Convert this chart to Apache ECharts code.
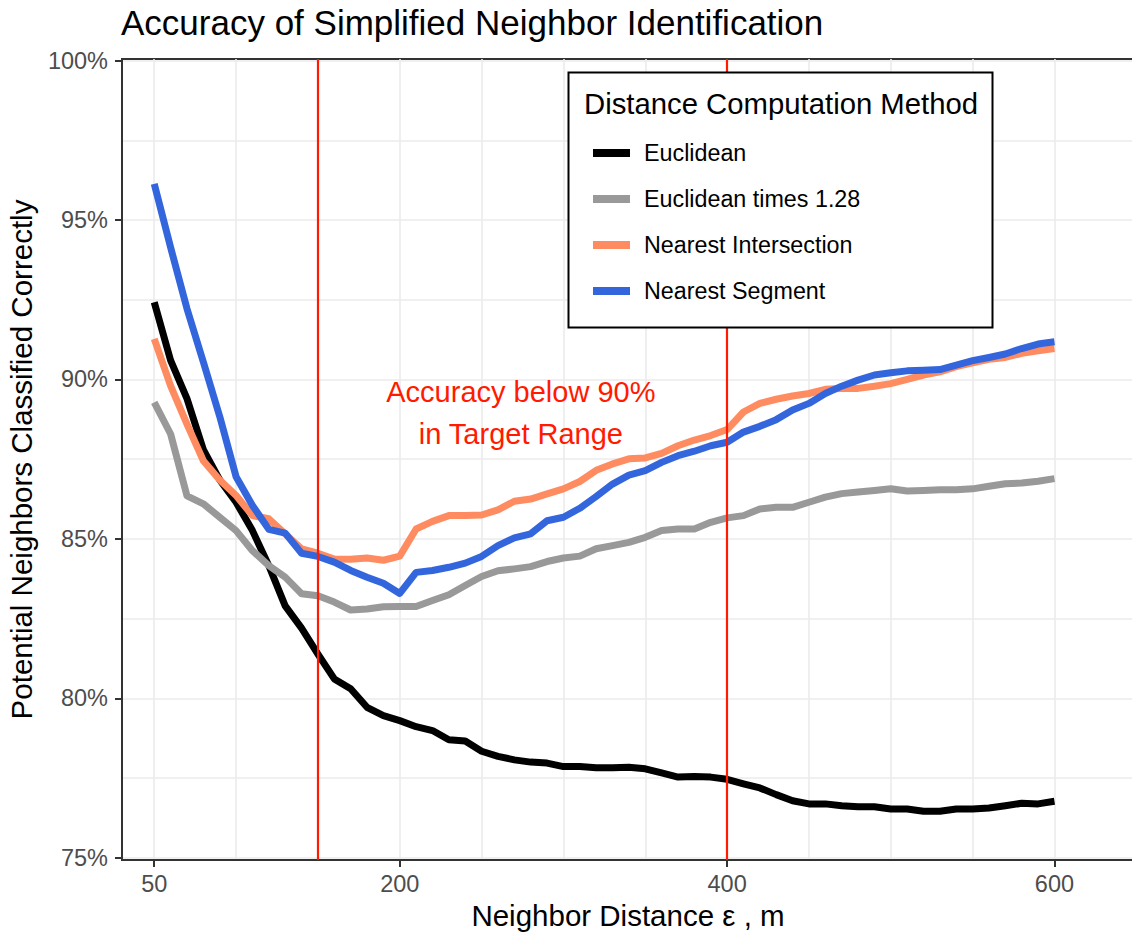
<!DOCTYPE html>
<html>
<head>
<meta charset="utf-8">
<script src="https://cdn.jsdelivr.net/npm/echarts@6/dist/echarts.min.js"></script>
<style>html,body{margin:0;padding:0;background:#fff}#chart{width:1132px;height:934px}</style>
</head>
<body>
<div id="chart"></div>
<script>
// ---- data ----
const distances = [50,60,70,80,90,100,110,120,130,140,150,160,170,180,190,200,210,220,230,240,250,260,270,280,290,300,310,320,330,340,350,360,370,380,390,400,410,420,430,440,450,460,470,480,490,500,510,520,530,540,550,560,570,580,590,600];
const euclidean = [92.42,90.6,89.4,87.8,86.85,86.15,85.26,84.16,82.9,82.2,81.39,80.61,80.3,79.72,79.46,79.3,79.11,78.99,78.7,78.66,78.34,78.18,78.07,78.0,77.97,77.86,77.86,77.82,77.82,77.84,77.79,77.66,77.53,77.55,77.53,77.46,77.32,77.19,76.98,76.79,76.69,76.69,76.63,76.6,76.6,76.53,76.53,76.46,76.46,76.53,76.53,76.56,76.63,76.71,76.69,76.77];
const euclideanTimes128 = [89.28,88.29,86.35,86.1,85.68,85.26,84.63,84.16,83.8,83.28,83.22,83.02,82.77,82.8,82.87,82.88,82.88,83.07,83.25,83.54,83.82,84.0,84.06,84.13,84.29,84.4,84.46,84.69,84.79,84.89,85.05,85.26,85.31,85.31,85.52,85.66,85.73,85.94,85.99,85.99,86.15,86.31,86.42,86.47,86.52,86.57,86.5,86.52,86.54,86.54,86.57,86.65,86.73,86.75,86.81,86.89];
const nearestIntersection = [91.27,89.8,88.6,87.45,86.85,86.36,85.73,85.63,85.16,84.69,84.55,84.37,84.36,84.4,84.33,84.46,85.31,85.55,85.73,85.73,85.75,85.91,86.18,86.25,86.41,86.57,86.8,87.15,87.35,87.51,87.54,87.68,87.92,88.1,88.24,88.43,88.98,89.25,89.38,89.48,89.56,89.69,89.72,89.72,89.79,89.87,90.0,90.14,90.24,90.4,90.52,90.63,90.69,90.82,90.9,90.97];
const nearestSegment = [96.13,94.14,92.22,90.55,88.84,86.95,86.05,85.3,85.18,84.55,84.45,84.27,84.01,83.8,83.61,83.29,83.95,84.01,84.11,84.24,84.45,84.79,85.03,85.16,85.57,85.68,85.96,86.33,86.72,87.0,87.14,87.4,87.61,87.75,87.92,88.03,88.35,88.53,88.74,89.04,89.25,89.56,89.79,89.98,90.14,90.21,90.27,90.29,90.31,90.45,90.59,90.69,90.8,90.97,91.11,91.18];
const seriesNames = ['Euclidean','Euclidean times 1.28','Nearest Intersection','Nearest Segment'];
const xTickValues = [50,200,400,600];
const xGridValues = [50,100,150,200,250,300,350,400,450,500,550,600];
const yTickValues = [75,80,85,90,95,100];
const yGridValues = [75,77.5,80,82.5,85,87.5,90,92.5,95,97.5,100];
const targetRange = [150,400];
const annotationText = 'Accuracy below 90%\nin Target Range';
const annotationAt = [274, 88.96];

// ---- styling ----
const seriesValues = [euclidean, euclideanTimes128, nearestIntersection, nearestSegment];
const colors = ['#000000','#999999','#FF8C61','#3366DD'];
const FONT = '"Liberation Sans", Arial, Helvetica, sans-serif';
const X_MIN = 30.3, X_MAX = 648.6, Y_MIN = 74.93, Y_MAX = 100.05;

const chart = echarts.init(document.getElementById('chart'), null, {renderer: 'svg', width: 1132, height: 934});

const lines = seriesNames.map((name, i) => ({
  name: name,
  type: 'line',
  xAxisIndex: 0, yAxisIndex: 0,
  data: distances.map((d, j) => [d, seriesValues[i][j]]),
  showSymbol: false, symbol: 'none',
  color: colors[i],
  itemStyle: {color: colors[i]},
  lineStyle: {width: 7, color: colors[i], cap: 'butt', join: 'round'},
  emphasis: {disabled: true},
  silent: true,
  animation: false
}));

lines.push({
  name: 'targetRange',
  type: 'line',
  xAxisIndex: 0, yAxisIndex: 0,
  data: [],
  silent: true,
  animation: false,
  z: 5,
  markLine: {
    silent: true, animation: false,
    symbol: ['none','none'],
    label: {show: false},
    emphasis: {disabled: true},
    lineStyle: {color: '#FF1A00', width: 2.2, type: 'solid'},
    data: targetRange.map(v => ({xAxis: v}))
  },
  markPoint: {
    silent: true, animation: false,
    symbol: 'rect', symbolSize: 1,
    itemStyle: {color: 'rgba(0,0,0,0)'},
    label: {show: true, position: 'inside', formatter: annotationText, color: '#FF1A00',
            fontSize: 29, lineHeight: 42, fontFamily: FONT, align: 'center'},
    data: [{coord: annotationAt}]
  }
});

const option = {
  animation: false,
  backgroundColor: '#ffffff',
  title: {
    text: 'Accuracy of Simplified Neighbor Identification',
    left: 121, top: 5, padding: 0,
    textStyle: {fontSize: 35, fontWeight: 'normal', color: '#000', fontFamily: FONT}
  },
  grid: {left: 122, top: 59, width: 1012, height: 801, show: true, borderColor: '#333', borderWidth: 2,
         backgroundColor: 'rgba(0,0,0,0)', containLabel: false, outerBoundsMode: 'none'},
  legend: {
    show: true, orient: 'vertical', left: 588, top: 136,
    itemWidth: 37, itemHeight: 8, itemGap: 22, icon: 'rect',
    selectedMode: false, z: 110,
    textStyle: {fontSize: 23.3, fontFamily: FONT, color: '#000', lineHeight: 24, padding: [0,0,0,9]},
    data: seriesNames
  },
  graphic: [
    {type: 'rect', z: 100, silent: true, shape: {x: 568.5, y: 72.5, width: 424, height: 255},
     style: {fill: '#ffffff', stroke: '#000000', lineWidth: 2}},
    {type: 'text', z: 101, silent: true,
     style: {x: 584, y: 103, text: 'Distance Computation Method', fontSize: 29.3, fontFamily: FONT,
             fill: '#000', verticalAlign: 'middle', align: 'left'}}
  ],
  xAxis: [
    {type: 'value', min: X_MIN, max: X_MAX, position: 'bottom',
     axisLine: {show: false}, axisTick: {show: false, customValues: xGridValues},
     axisLabel: {show: false},
     splitLine: {show: true, lineStyle: {color: '#EBEBEB', width: 1.6}}},
    {type: 'value', min: X_MIN, max: X_MAX, position: 'bottom',
     axisLine: {show: true, onZero: false, lineStyle: {color: '#333', width: 2}},
     axisTick: {show: true, customValues: xTickValues, length: 7, lineStyle: {color: '#333', width: 2}},
     axisLabel: {show: true, customValues: xTickValues, fontSize: 23.5, color: '#4D4D4D', margin: 12, fontFamily: FONT},
     splitLine: {show: false},
     name: 'Neighbor Distance ε , m', nameLocation: 'middle', nameGap: 40,
     nameTextStyle: {fontSize: 29.5, color: '#000', fontFamily: FONT}}
  ],
  yAxis: [
    {type: 'value', min: Y_MIN, max: Y_MAX, position: 'left',
     axisLine: {show: false}, axisTick: {show: false, customValues: yGridValues},
     axisLabel: {show: false},
     splitLine: {show: true, lineStyle: {color: '#EBEBEB', width: 1.6}}},
    {type: 'value', min: Y_MIN, max: Y_MAX, position: 'left',
     axisLine: {show: true, onZero: false, lineStyle: {color: '#333', width: 2}},
     axisTick: {show: true, customValues: yTickValues, length: 7, lineStyle: {color: '#333', width: 2}},
     axisLabel: {show: true, customValues: yTickValues, formatter: '{value}%', fontSize: 23.5, color: '#4D4D4D', margin: 14, fontFamily: FONT},
     splitLine: {show: false},
     name: 'Potential Neighbors Classified Correctly', nameLocation: 'middle', nameGap: 78,
     nameTextStyle: {fontSize: 29.5, color: '#000', fontFamily: FONT}}
  ],
  series: lines
};
chart.setOption(option);
</script>
</body>
</html>
